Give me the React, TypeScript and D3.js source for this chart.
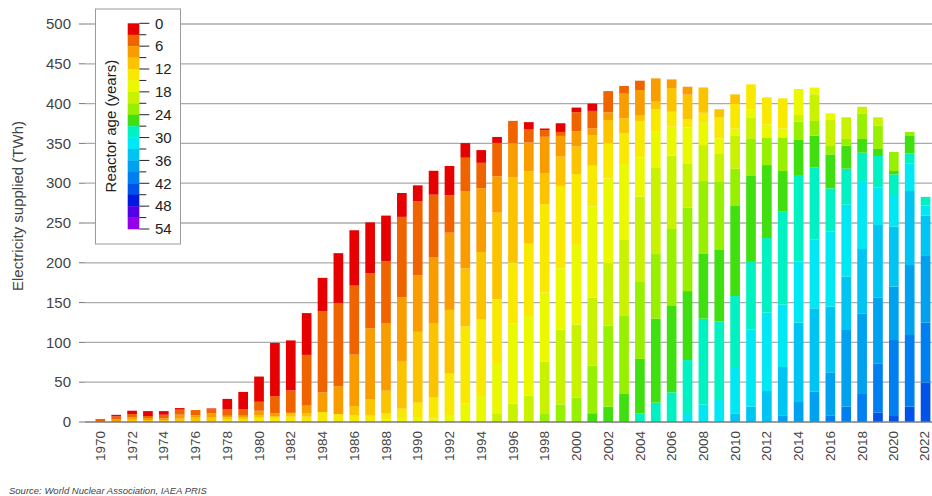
import React from 'react';
import * as d3 from 'd3';

const years: string[] = [
  '1970','1971','1972','1973','1974','1975','1976','1977','1978','1979',
  '1980','1981','1982','1983','1984','1985','1986','1987','1988','1989',
  '1990','1991','1992','1993','1994','1995','1996','1997','1998','1999',
  '2000','2001','2002','2003','2004','2005','2006','2007','2008','2009',
  '2010','2011','2012','2013','2014','2015','2016','2017','2018','2019',
  '2020','2021','2022',
];

// 3-year reactor age bands, youngest first
const ageBands: string[] = [
  '0-3','3-6','6-9','9-12','12-15','15-18','18-21','21-24','24-27',
  '27-30','30-33','33-36','36-39','39-42','42-45','45-48','48-51','51-54',
];

const bandColors: string[] = [
  '#e60000','#f06400','#f99c00','#fcc400','#f9e900','#eaf800',
  '#c8f200','#96f000','#40e010','#00f2c2','#00e8f4','#00c4f2',
  '#00a2f0','#0080f0','#0052e8','#0018e0','#5200e8','#9400ea',
];

const legendTicks: number[] = [0, 6, 12, 18, 24, 30, 36, 42, 48, 54];
const legendMinorTicks: number[] = [0, 3, 6, 9, 12, 15, 18, 21, 24, 27, 30, 33, 36, 39, 42, 45, 48, 51, 54];
const yTicks: number[] = [0, 50, 100, 150, 200, 250, 300, 350, 400, 450, 500];
const xLabelYears: string[] = years.filter((_, i) => i % 2 === 0);

// Electricity supplied (TWh) per age band, band 0-3 first; missing trailing bands are 0
const generation: number[][] = [
  [0, 3.8],
  [2, 3.3, 3.7],
  [4.2, 4.2, 2.9, 2.9],
  [6.2, 2.5, 2.5, 2.5],
  [4.6, 4.6, 2, 2.5],
  [2, 6.3, 5, 4.2],
  [0, 6.7, 2.9, 5.4],
  [1.2, 5, 4.6, 6.2],
  [13.3, 7.9, 2, 2.9, 2.9],
  [22, 7.9, 2.5, 2.5, 2.9],
  [31.7, 11.3, 5.4, 3.3, 5.4],
  [67, 21.7, 3.3, 2, 5.4],
  [62.7, 28.3, 0, 4.8, 6.7],
  [52.5, 63.8, 10, 3.8, 6.7],
  [42, 102, 24.6, 0, 12.5],
  [62.5, 104.6, 35, 0, 10],
  [69.6, 86.7, 64.6, 11.7, 8.3],
  [64, 69, 89, 20.8, 8],
  [57, 78, 85, 28, 8, 3.3],
  [30, 101, 80, 60, 11.7, 5],
  [20, 93, 71, 89, 19, 5.3],
  [30, 79, 83, 93, 26, 4.6],
  [36.8, 47, 97, 80, 52, 8.8],
  [18.4, 42, 97, 73, 97, 23],
  [16, 32, 80, 85, 96, 32.6],
  [7.5, 42, 45.6, 109, 81, 62, 11],
  [0, 28, 42.7, 107, 76.6, 101, 23],
  [9.2, 16.3, 36.4, 90.8, 91, 100, 33],
  [2, 8.4, 45.6, 39, 111, 87, 65.7, 10],
  [10.9, 5, 26, 36.8, 103.6, 77, 94, 22],
  [5.8, 24, 19, 34.7, 89, 100, 92, 30.5],
  [9.2, 22, 8.8, 38, 51, 115, 85, 60, 11],
  [0, 26.8, 9.6, 28.9, 44.4, 106.4, 78.3, 102, 19.3],
  [0, 9.6, 31, 18.4, 39, 94.6, 95.5, 98, 36],
  [0, 11.7, 31.4, 7.5, 45.6, 49.4, 106.4, 97.6, 68.3, 10.9],
  [0, 0, 29.3, 9.2, 28.5, 44.8, 108.9, 81.2, 105.5, 24.3],
  [0, 0, 10.9, 29.7, 18.8, 36.4, 92.1, 95.9, 109.3, 37.3],
  [0, 0, 10, 30.6, 10.5, 46, 54.9, 104.7, 86.7, 67.8, 10],
  [0, 0, 0, 31.8, 12.6, 28, 45.2, 90.9, 82, 107.6, 22.2],
  [0, 0, 0, 10.5, 26, 19.7, 35.2, 85.4, 90, 97.2, 28.9],
  [0, 0, 0, 11.7, 31, 8.8, 41.9, 46, 113.9, 89.2, 58.2, 10.9],
  [0, 0, 0, 0, 31.4, 10, 27.2, 46.5, 108, 84.6, 97.2, 19.3],
  [0, 0, 0, 0, 33.9, 16.3, 0, 34.8, 91.7, 93.4, 98.8, 38.9],
  [0, 0, 0, 0, 37.7, 11.3, 0, 42.3, 51.1, 116.4, 78.7, 60.7, 8.4],
  [0, 0, 0, 0, 0, 32.7, 8.4, 23, 44, 108.9, 76.6, 99.7, 25.1],
  [0, 0, 0, 0, 0, 8.4, 33.5, 18.4, 39.8, 90.5, 86.7, 104.7, 38.1],
  [0, 0, 0, 0, 0, 8.4, 32.7, 10.5, 42.7, 54.4, 94.2, 82.5, 54, 8.4],
  [0, 0, 0, 0, 0, 0, 27.2, 8.4, 28.9, 44.8, 90.9, 67, 96.3, 19.3],
  [0, 0, 0, 0, 0, 0, 8.4, 32.2, 17.2, 35.6, 85.4, 80.8, 101.3, 35.2],
  [0, 0, 0, 0, 0, 0, 10.5, 29.3, 8.8, 39.8, 46.9, 90.9, 82.9, 62, 11.7],
  [0, 0, 0, 0, 0, 0, 0, 23.9, 4.2, 27.2, 38.5, 75.4, 67, 95.5, 7.5],
  [0, 0, 0, 0, 0, 0, 0, 5, 21.8, 13, 34.3, 93, 87.9, 90, 19.3],
  [0, 0, 0, 0, 0, 0, 0, 0, 0, 10.9, 12.6, 50.7, 83.8, 75.4, 49.4],
];

const FONT = '"Liberation Sans", Arial, Helvetica, sans-serif';
const TEXT = '#444';

export default function App() {
  const W = 932;
  const H = 496;
  const plotLeft = 85;
  const plotRight = 932;
  const y0 = 422;
  const y1 = 24;

  const x = d3.scaleBand<string>()
    .domain(years)
    .range([92.4, 933.5])
    .paddingInner(0.39)
    .paddingOuter(0.195);
  const y = d3.scaleLinear().domain([0, 500]).range([y0, y1]);

  const table = years.map((yr, i) => {
    const row: Record<string, number | string> = { year: yr };
    ageBands.forEach((b, k) => {
      row[b] = generation[i][k] ?? 0;
    });
    return row;
  });

  // oldest at the bottom, youngest on top
  const keys = [...ageBands].reverse();
  const series = d3.stack<any>().keys(keys).order(d3.stackOrderNone)(table as any);

  // legend
  const lg = d3.scaleLinear().domain([0, 54]).range([23.3, 229]);
  const swX = 127.7;
  const swW = 11.6;

  return (
    <svg width={W} height={H} style={{ position: 'absolute', left: 0, top: 0, background: '#fff' }}
      fontFamily={FONT}>
      <rect x={0} y={0} width={W} height={H} fill="#fff" />
      {/* gridlines */}
      {yTicks.filter(t => t > 0).map(t => (
        <line key={'g' + t} x1={plotLeft} x2={plotRight} y1={y(t)} y2={y(t)} stroke="#ababab" strokeWidth={1.3} />
      ))}
      {/* y ticks + labels */}
      {yTicks.map(t => (
        <g key={'yt' + t}>
          <line x1={79} x2={plotLeft} y1={y(t)} y2={y(t)} stroke="#777" strokeWidth={1} />
          <text x={71} y={y(t)} dy="0.35em" textAnchor="end" fontSize={15} fill={TEXT}>{t}</text>
        </g>
      ))}
      {/* bars */}
      {series.map((s) => (
        <g key={s.key} fill={bandColors[ageBands.indexOf(s.key as string)]}>
          {s.map((d: any, i: number) => {
            const h = y(d[0]) - y(d[1]);
            if (h <= 0) return null;
            return (
              <rect key={i} x={x(years[i])} y={y(d[1])} width={x.bandwidth()} height={h} />
            );
          })}
        </g>
      ))}
      {/* baseline */}
      <line x1={plotLeft} x2={plotRight} y1={y0} y2={y0} stroke="#7a7a7a" strokeWidth={1.5} />
      {/* x labels */}
      {xLabelYears.map(yr => {
        const cx = Math.min((x(yr) as number) + x.bandwidth() / 2, 924.5);
        return (
          <text key={'xl' + yr} transform={`translate(${cx},${431}) rotate(-90)`} textAnchor="end"
            dy="0.34em" fontSize={13.5} fill={TEXT}>{yr}</text>
        );
      })}
      {/* y title */}
      <text transform={`translate(18,${206}) rotate(-90)`} textAnchor="middle" dy="0.35em"
        fontSize={15} fill={TEXT}>Electricity supplied (TWh)</text>
      {/* source */}
      <text x={9} y={494} fontSize={9.5} fontStyle="italic" fill={TEXT}>Source: World Nuclear Association, IAEA PRIS</text>

      {/* legend */}
      <rect x={95.5} y={9} width={85} height={235} fill="#fff" stroke="#9a9a9a" strokeWidth={1} />
      {ageBands.map((b, k) => (
        <rect key={'sw' + b} x={swX} y={lg(k * 3)} width={swW} height={lg(k * 3 + 3) - lg(k * 3) + 0.3}
          fill={bandColors[k]} />
      ))}
      {legendMinorTicks.map(v => (
        <line key={'lt' + v} x1={swX + swW} x2={swX + swW + (v % 6 === 0 ? 10 : 7)} y1={lg(v)} y2={lg(v)}
          stroke="#222" strokeWidth={1} />
      ))}
      {legendTicks.map(v => (
        <text key={'ll' + v} x={155} y={lg(v)} dy="0.35em" fontSize={15} fill="#222">{v}</text>
      ))}
      <text transform={`translate(111,${(lg(0) + lg(54)) / 2}) rotate(-90)`} textAnchor="middle" dy="0.35em"
        fontSize={15} fill="#222">Reactor age (years)</text>
    </svg>
  );
}
